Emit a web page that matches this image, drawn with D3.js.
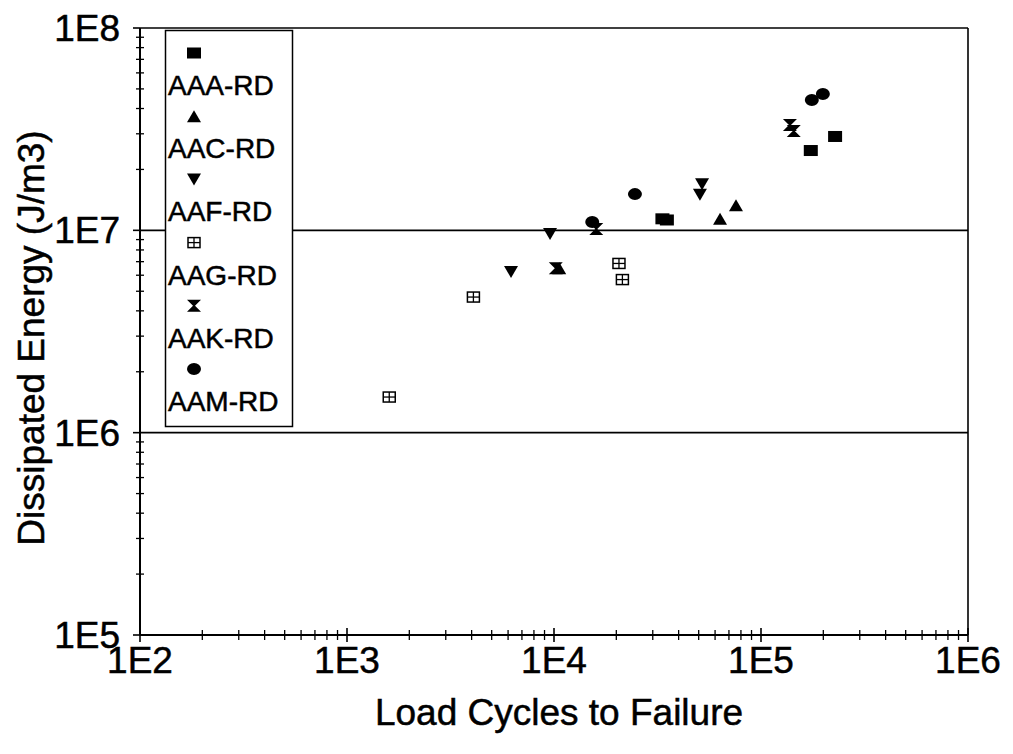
<!DOCTYPE html>
<html><head><meta charset="utf-8">
<script src="https://cdn.jsdelivr.net/npm/d3@7/dist/d3.min.js"></script>
<style>body{margin:0;background:#fff;} svg{display:block;} text{font-family:"Liberation Sans",Arial,sans-serif;fill:#000;stroke:#000;stroke-width:0.5px;}</style>
</head><body>
<svg id="c" width="1013" height="754"></svg>
<script>
const seriesNames = ["AAA-RD","AAC-RD","AAF-RD","AAG-RD","AAK-RD","AAM-RD"];
const seriesShapes = ["square","triUp","triDown","boxPlus","hourglass","circle"];
const cyclesAAA = [3.34e4, 3.51e4, 1.74e5, 2.28e5];
const energyAAA = [1.14e7, 1.125e7, 2.48e7, 2.91e7];
const cyclesAAC = [1.06e4, 6.34e4, 7.57e4];
const energyAAC = [6.5e6, 1.14e7, 1.33e7];
const cyclesAAF = [9.57e3, 6.2e3, 5.19e4, 5.07e4];
const energyAAF = [9.6e6, 6.22e6, 1.69e7, 1.5e7];
const cyclesAAG = [1.6e3, 4.08e3, 2.06e4, 2.14e4];
const energyAAG = [1.5e6, 4.68e6, 6.86e6, 5.71e6];
const cyclesAAK = [1.02e4, 1.6e4, 1.38e5, 1.44e5];
const energyAAK = [6.5e6, 1.016e7, 3.32e7, 3.1e7];
const cyclesAAM = [1.53e4, 2.46e4, 1.76e5, 1.99e5];
const energyAAM = [1.1e7, 1.51e7, 4.41e7, 4.72e7];
const xTickLabels = ["1E2","1E3","1E4","1E5","1E6"];
const yTickLabels = ["1E5","1E6","1E7","1E8"];
const xTitle = "Load Cycles to Failure";
const yTitle = "Dissipated Energy (J/m3)";

const seriesData = [
  [cyclesAAA, energyAAA],[cyclesAAC, energyAAC],[cyclesAAF, energyAAF],
  [cyclesAAG, energyAAG],[cyclesAAK, energyAAK],[cyclesAAM, energyAAM]
];

const L = 140, R = 968, T = 28, B = 635;
const x = d3.scaleLog().domain([1e2, 1e6]).range([L, R]);
const y = d3.scaleLog().domain([1e5, 1e8]).range([B, T]);
const svg = d3.select("#c");

// gridlines
svg.append("g").selectAll("line").data([1e6, 1e7]).join("line")
  .attr("x1", L).attr("x2", R).attr("y1", d => y(d)).attr("y2", d => y(d))
  .attr("stroke", "#000").attr("stroke-width", 1.6);
// frame top/right
svg.append("line").attr("x1", L).attr("x2", R).attr("y1", T).attr("y2", T).attr("stroke", "#000").attr("stroke-width", 1.6);
svg.append("line").attr("x1", R).attr("x2", R).attr("y1", T).attr("y2", B).attr("stroke", "#000").attr("stroke-width", 1.6);

function minors(lo, hi) {
  const out = [];
  for (let e = lo; e < hi; e++) for (let m = 2; m <= 9; m++) out.push(m * Math.pow(10, e));
  return out;
}
// X axis
const xAx = svg.append("g").attr("transform", `translate(0,${B})`);
xAx.append("line").attr("x1", L).attr("x2", R).attr("stroke", "#000").attr("stroke-width", 2);
xAx.selectAll(".mn").data(minors(2, 6)).join("line").attr("class", "mn")
  .attr("x1", d => x(d)).attr("x2", d => x(d)).attr("y1", -5).attr("y2", 5).attr("stroke", "#000").attr("stroke-width", 1.3);
const xMaj = d3.range(2, 7).map(e => Math.pow(10, e));
xAx.selectAll(".mj").data(xMaj).join("line").attr("class", "mj")
  .attr("x1", d => x(d)).attr("x2", d => x(d)).attr("y1", -7).attr("y2", 7).attr("stroke", "#000").attr("stroke-width", 1.6);
xAx.selectAll("text").data(xMaj).join("text")
  .attr("x", d => x(d)).attr("y", 38).attr("text-anchor", "middle").attr("font-size", 37)
  .text((d, i) => xTickLabels[i]);

// Y axis
const yAx = svg.append("g").attr("transform", `translate(${L},0)`);
yAx.append("line").attr("y1", T).attr("y2", B).attr("stroke", "#000").attr("stroke-width", 2);
yAx.selectAll(".mn").data(minors(5, 8)).join("line").attr("class", "mn")
  .attr("y1", d => y(d)).attr("y2", d => y(d)).attr("x1", -4).attr("x2", 4).attr("stroke", "#000").attr("stroke-width", 1.3);
const yMaj = d3.range(5, 9).map(e => Math.pow(10, e));
yAx.selectAll(".mj").data(yMaj).join("line").attr("class", "mj")
  .attr("y1", d => y(d)).attr("y2", d => y(d)).attr("x1", -7).attr("x2", 0).attr("stroke", "#000").attr("stroke-width", 1.6);
yAx.selectAll("text").data(yMaj).join("text")
  .attr("x", -20).attr("y", d => y(d) + 13).attr("text-anchor", "end").attr("font-size", 37)
  .text((d, i) => yTickLabels[i]);

// titles
svg.append("text").attr("x", 559).attr("y", 725).attr("text-anchor", "middle").attr("font-size", 37).text(xTitle);
svg.append("text").attr("transform", `translate(44,338) rotate(-90)`).attr("text-anchor", "middle").attr("font-size", 37).text(yTitle);

function drawMarker(g, shape, cx, cy) {
  if (shape === "square") {
    g.append("rect").attr("x", cx - 7).attr("y", cy - 5.5).attr("width", 14).attr("height", 11).attr("fill", "#000");
  } else if (shape === "triUp") {
    g.append("path").attr("d", `M${cx},${cy - 6}L${cx + 7},${cy + 6}L${cx - 7},${cy + 6}Z`).attr("fill", "#000");
  } else if (shape === "triDown") {
    g.append("path").attr("d", `M${cx - 7},${cy - 6}L${cx + 7},${cy - 6}L${cx},${cy + 6}Z`).attr("fill", "#000");
  } else if (shape === "boxPlus") {
    g.append("rect").attr("x", cx - 6).attr("y", cy - 5).attr("width", 12).attr("height", 10).attr("fill", "#fff").attr("stroke", "#000").attr("stroke-width", 1.5);
    g.append("line").attr("x1", cx).attr("x2", cx).attr("y1", cy - 5).attr("y2", cy + 5).attr("stroke", "#000").attr("stroke-width", 1.3);
    g.append("line").attr("x1", cx - 6).attr("x2", cx + 6).attr("y1", cy).attr("y2", cy).attr("stroke", "#000").attr("stroke-width", 1.3);
  } else if (shape === "hourglass") {
    g.append("path").attr("d", `M${cx - 7},${cy - 6}L${cx + 7},${cy - 6}L${cx + 1},${cy}L${cx + 7},${cy + 6}L${cx - 7},${cy + 6}L${cx - 1},${cy}Z`).attr("fill", "#000");
  } else if (shape === "circle") {
    g.append("ellipse").attr("cx", cx).attr("cy", cy).attr("rx", 7).attr("ry", 6).attr("fill", "#000");
  }
}

const pts = svg.append("g");
seriesData.forEach((s, i) => {
  s[0].forEach((c, j) => drawMarker(pts, seriesShapes[i], x(c), y(s[1][j])));
});

// legend
const lg = svg.append("g");
lg.append("rect").attr("x", 165.5).attr("y", 30.5).attr("width", 127).attr("height", 396).attr("fill", "#fff").attr("stroke", "#000").attr("stroke-width", 1.5);
seriesNames.forEach((n, i) => {
  const yy = 53 + i * 63.2;
  drawMarker(lg, seriesShapes[i], 194, yy);
  lg.append("text").attr("x", 168).attr("y", yy + 42).attr("font-size", 28).text(n);
});
</script>
</body></html>
